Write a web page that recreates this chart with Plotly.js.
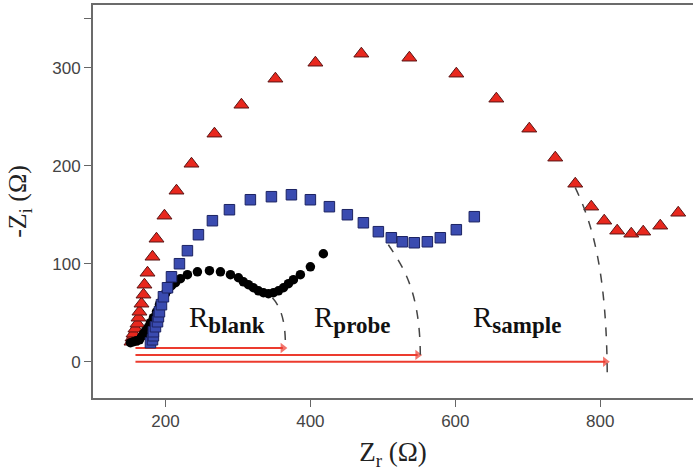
<!DOCTYPE html>
<html>
<head>
<meta charset="utf-8">
<script src="https://cdn.plot.ly/plotly-3.0.1.min.js"></script>
<style>html,body{margin:0;padding:0;background:#fff;}#chart{width:693px;height:471px;}</style>
</head>
<body>
<div id="chart"></div>
<script>
// Sample (red triangles)
const sampleZr = [153.1,154.5,155.9,158.6,161.4,162.8,164.1,166.9,169.7,171.0,175.2,182.1,187.6,198.6,215.2,235.9,267.6,304.8,351.7,406.9,470.3,536.6,601.4,656.6,702.1,737.9,765.5,787.6,805.5,823.4,842.8,859.3,882.8,907.6];
const sampleZi = [20.4,24.5,28.6,33.7,38.8,44.9,51.0,59.2,68.4,78.6,90.8,107.1,125.5,149.0,174.5,202.0,232.7,262.2,288.8,305.1,314.3,310.2,293.9,268.4,237.8,208.2,181.6,158.2,143.9,133.7,130.6,132.7,138.8,152.0];
// Probe (blue squares)
const probeZr = [179.3,182.1,183.4,183.4,186.2,189.0,190.3,191.7,194.5,197.2,202.8,208.3,219.3,230.3,245.5,264.8,288.3,317.2,346.2,373.8,400.0,426.2,451.0,473.1,493.8,511.7,526.9,543.4,561.4,579.3,601.4,626.2];
const probeZi = [19.4,22.4,26.5,30.6,35.7,40.8,45.9,51.0,58.2,66.3,75.5,86.7,100.0,113.3,129.6,143.9,155.1,165.3,168.4,170.4,165.3,158.2,150.0,141.8,132.7,126.5,122.4,121.4,122.4,126.5,134.7,148.0];
// Blank (black circles)
const blankZr = [151.7,155.9,160.0,164.1,166.9,169.7,172.4,176.6,179.3,183.4,187.6,191.7,195.9,200.0,204.1,208.3,213.8,220.7,230.3,244.1,260.7,275.9,289.7,300.7,307.6,314.5,321.4,328.3,335.2,342.1,349.0,355.9,362.8,369.7,376.6,386.2,400.0,417.9];
const blankZi = [19.4,20.4,21.4,22.4,25.5,28.6,31.6,35.7,39.8,44.9,51.0,58.2,64.3,69.4,73.5,77.6,80.6,84.7,88.8,91.8,92.9,91.8,88.8,85.7,81.6,78.6,75.5,72.4,70.4,69.4,70.4,72.4,75.5,79.6,83.7,88.8,96.9,110.2];

// Resistance arrows
const arrowLabels = ["blank","probe","sample"];
const arrowStart = 158.6;
const arrowEnd = [362.0, 548.0, 807.0];
const arrowY = [14, 7, 0];
// Dashed extrapolation arcs (cubic bezier points: start, c1, c2, end)
const arcX = [[347.6,360,366,365.5],[507.6,530,551,551.7],[765.5,790,809,809.7]];
const arcY = [[65.3,55,40,13.3],[119.4,95,70,7.1],[177.6,140,90,-16.3]];
// Label anchors
const labelX = [230.0, 402.0, 622.0];
const labelY = [22, 22, 22];

const xTicks = [200,400,600,800];
const yTicks = [0,100,200,300,350];
const yTickText = ['0','100','200','300',''];

const traces = [];
arrowEnd.forEach((e,i)=>{
  traces.push({x:[arrowStart, e], y:[arrowY[i], arrowY[i]], type:'scatter', mode:'lines+markers',
    line:{color:'#ec3b2e', width:2}, marker:{symbol:'triangle-right', size:[0,9], color:'#ec3b2e', line:{width:0}},
    hoverinfo:'skip'});
});
traces.push(
  {x: sampleZr, y: sampleZi, type:'scatter', mode:'markers', name:'sample',
   marker:{symbol:'triangle-up', size:13, color:'#e8281e', line:{color:'#5a1414', width:1}}},
  {x: blankZr, y: blankZi, type:'scatter', mode:'markers', name:'blank',
   marker:{symbol:'circle', size:9.5, color:'#000000'}},
  {x: probeZr, y: probeZi, type:'scatter', mode:'markers', name:'probe',
   marker:{symbol:'square', size:10.5, color:'#3a4bb0', line:{color:'#1c2363', width:1}}}
);

const shapes = arcX.map((xs,i)=>{
  const ys = arcY[i];
  return {type:'path', xref:'x', yref:'y',
    path:`M ${xs[0]},${ys[0]} C ${xs[1]},${ys[1]} ${xs[2]},${ys[2]} ${xs[3]},${ys[3]}`,
    line:{color:'#444', width:1.5, dash:'dash'}};
});

const annotations = arrowLabels.map((t,i)=>({
  x:labelX[i], y:labelY[i], xref:'x', yref:'y', xanchor:'left', yanchor:'bottom', showarrow:false,
  text:'R<sub><span style="font-size:23px;font-weight:bold">'+t+'</span></sub>',
  font:{family:'Liberation Serif, Times New Roman, serif', size:29, color:'#111'}}));

const layout = {
  width:693, height:471,
  margin:{l:93, r:0, t:5, b:73},
  paper_bgcolor:'#fff', plot_bgcolor:'#fff',
  showlegend:false,
  xaxis:{range:[100,928], tickvals:xTicks, ticks:'outside', ticklen:7, tickwidth:1.5, tickcolor:'#666',
    showline:true, linecolor:'#6b6b6b', linewidth:2, mirror:true, showgrid:false, zeroline:false,
    tickfont:{family:'Liberation Sans, Arial, sans-serif', size:17, color:'#444'},
    title:{text:'Z<sub>r</sub> (Ω)', font:{family:'Liberation Serif, Times New Roman, serif', size:27, color:'#222'}, standoff:14}},
  yaxis:{range:[-37,364], tickvals:yTicks, ticktext:yTickText, ticks:'outside', ticklen:7, tickwidth:1.5, tickcolor:'#666',
    showline:true, linecolor:'#6b6b6b', linewidth:2, mirror:false, showgrid:false, zeroline:false,
    tickfont:{family:'Liberation Sans, Arial, sans-serif', size:17, color:'#444'},
    title:{text:'-Z<sub>i</sub> (Ω)', font:{family:'Liberation Serif, Times New Roman, serif', size:26, color:'#222'}, standoff:18}},
  shapes: shapes,
  annotations: annotations
};

Plotly.newPlot('chart', traces, layout, {displayModeBar:false, staticPlot:true});
</script>
</body>
</html>
